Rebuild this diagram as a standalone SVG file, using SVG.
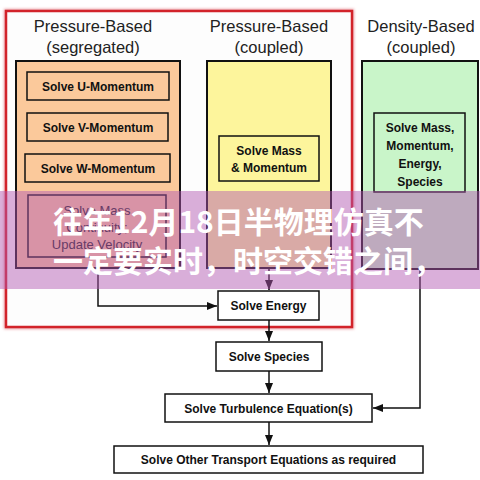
<svg xmlns="http://www.w3.org/2000/svg" width="480" height="480" viewBox="0 0 480 480">
<defs>
<marker id="arr" markerWidth="10" markerHeight="8" refX="10" refY="4" orient="auto" markerUnits="userSpaceOnUse">
<path d="M0,0 L10,4 L0,8 Z" fill="#111"/>
</marker>
<filter id="sh" x="-5%" y="-5%" width="110%" height="110%">
<feGaussianBlur stdDeviation="1.5"/>
</filter>
</defs>
<style>
.hdr{font-family:"Liberation Sans",Arial,sans-serif;font-size:16.5px;fill:#222;text-anchor:middle}
.lbl{font-family:"Liberation Sans",Arial,sans-serif;font-size:12px;font-weight:bold;fill:#111;text-anchor:middle}
.thin{font-family:"Liberation Sans",Arial,sans-serif;font-size:13px;fill:#222;text-anchor:middle}
.box{fill:#fff;stroke:#111;stroke-width:1.5}
.panel{stroke:#111;stroke-width:2}
.inner{stroke:#111;stroke-width:1.5}
.ln{fill:none;stroke:#111;stroke-width:1.5}
.cn{font-family:"Noto Sans CJK SC","Noto Sans",sans-serif;font-size:30px;font-weight:bold;fill:#fff}
</style>
<rect width="480" height="480" fill="#fff"/>
<rect x="6" y="11" width="346" height="316" fill="none" stroke="#e89aa0" stroke-width="4" filter="url(#sh)"/>
<rect x="6" y="11" width="346" height="316" fill="#fdfdfd" stroke="#d2232a" stroke-width="2.5"/>

<g id="hdr-seg">
<text class="hdr" x="93" y="32">Pressure-Based</text>
<text class="hdr" x="93" y="53">(segregated)</text>
</g>
<g id="hdr-coupled">
<text class="hdr" x="269" y="32">Pressure-Based</text>
<text class="hdr" x="269" y="53">(coupled)</text>
</g>
<g id="hdr-density">
<text class="hdr" x="421" y="32">Density-Based</text>
<text class="hdr" x="421" y="53">(coupled)</text>
</g>

<g id="panel-seg">
<rect class="panel" x="16" y="61" width="164" height="207" fill="#fbc99b"/>
</g>
<g id="u-mom"><rect class="inner" x="27" y="72" width="142" height="28" fill="#fbc99b"/><text class="lbl" x="98" y="90.5">Solve U-Momentum</text></g>
<g id="v-mom"><rect class="inner" x="27" y="113" width="141" height="28" fill="#fbc99b"/><text class="lbl" x="98" y="131.5">Solve V-Momentum</text></g>
<g id="w-mom"><rect class="inner" x="25" y="154" width="145" height="28" fill="#fbc99b"/><text class="lbl" x="98" y="172.5">Solve W-Momentum</text></g>
<g id="mass-cont"><rect class="inner" x="28" y="195" width="138" height="62" fill="#fbc99b"/>
<text class="thin" x="97" y="215">Solve Mass</text>
<text class="thin" x="97" y="232">Continuity;</text>
<text class="thin" x="97" y="249">Update Velocity</text></g>

<g id="panel-coupled">
<rect class="panel" x="207" y="61" width="124" height="207" fill="#fdf59c"/>
</g>
<g id="mass-mom"><rect class="inner" x="219" y="136" width="100" height="45" fill="#fdf59c"/>
<text class="lbl" x="269" y="155">Solve Mass</text>
<text class="lbl" x="269" y="172">&amp; Momentum</text></g>

<g id="panel-density">
<rect class="panel" x="362" y="61" width="116" height="208" fill="#c9f5c9"/>
</g>
<g id="mass-mom-en"><rect class="inner" x="374" y="113" width="91" height="79" fill="#c9f5c9"/>
<text class="lbl" x="420" y="132">Solve Mass,</text>
<text class="lbl" x="420" y="150">Momentum,</text>
<text class="lbl" x="420" y="168">Energy,</text>
<text class="lbl" x="420" y="186">Species</text></g>

<g id="connectors">
<path class="ln" d="M98,268 V306 H217" marker-end="url(#arr)"/>
<path class="ln" d="M269,268 V290" marker-end="url(#arr)"/>
<path class="ln" d="M269,320 V341" marker-end="url(#arr)"/>
<path class="ln" d="M269,371 V393" marker-end="url(#arr)"/>
<path class="ln" d="M269,422 V445" marker-end="url(#arr)"/>
<path class="ln" d="M420,269 V408 H373" marker-end="url(#arr)"/>
</g>

<g id="energy"><rect class="box" x="218" y="291" width="101" height="29"/><text class="lbl" x="268.5" y="310">Solve Energy</text></g>
<g id="species"><rect class="box" x="216" y="342" width="106" height="29"/><text class="lbl" x="269" y="361">Solve Species</text></g>
<g id="turb"><rect class="box" x="165" y="394" width="207" height="28"/><text class="lbl" x="268.5" y="412.5">Solve Turbulence Equation(s)</text></g>
<g id="other"><rect class="box" x="114" y="446" width="309" height="27"/><text class="lbl" x="268.5" y="464">Solve Other Transport Equations as required</text></g>

<g id="banner">
<rect x="0" y="191" width="480" height="98" fill="rgb(178,88,178)" fill-opacity="0.48"/>
<text class="cn" x="53" y="233">往年12月18日半物理仿真不</text>
<text class="cn" x="53" y="272">一定要实时，时空交错之间，</text>
</g>
</svg>
